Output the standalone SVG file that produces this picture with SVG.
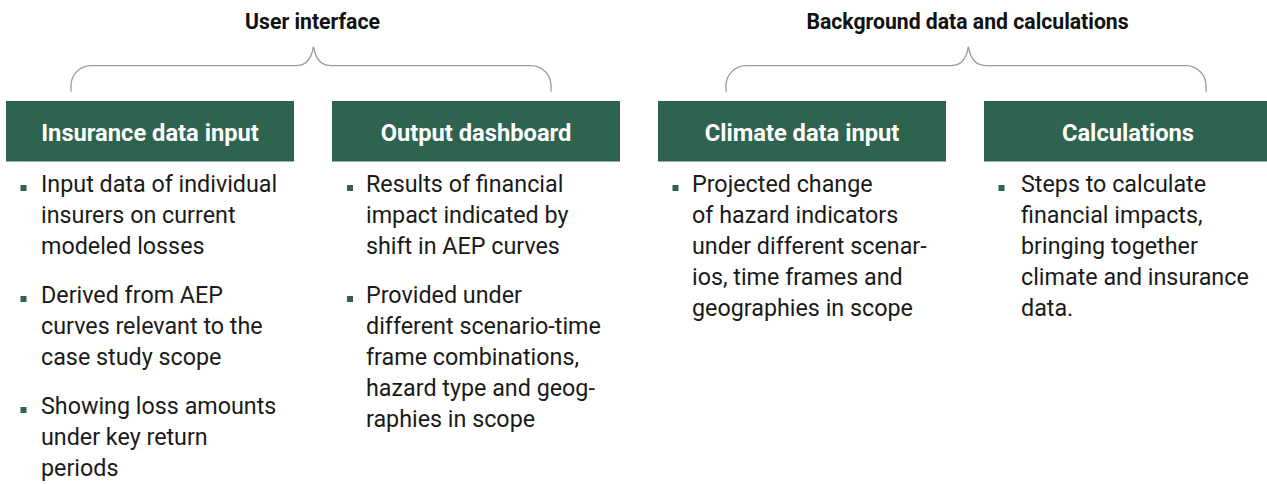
<svg xmlns="http://www.w3.org/2000/svg" width="1267" height="484" viewBox="0 0 1267 484">
<style>
.box{fill:#2e634f}
.ttl{font-family:Roboto,"Liberation Sans",sans-serif;font-weight:700;font-size:23.7px;fill:#ffffff;text-anchor:middle}
.hdr{font-family:Roboto,"Liberation Sans",sans-serif;font-weight:700;font-size:21.2px;fill:#111111;text-anchor:middle}
.body{font-family:Roboto,"Liberation Sans",sans-serif;font-size:23.3px;fill:#1a1a1a}
.bul{fill:#2e634f}
.brace{fill:none;stroke:#9a9a9a;stroke-width:1.3}
</style>
<rect width="1267" height="484" fill="#ffffff"/>
<g id="group-headers">
<text id="hdr-ui" class="hdr" x="312.5" y="28.5">User interface</text>
<text id="hdr-bg" class="hdr" x="967.5" y="28.5">Background data and calculations</text>
</g>
<g id="connectors">
<path class="brace" d="M71,91.7 V86 A20,20 0 0 1 91,65.7 H295 C305,65.7 311,61 313.5,46.7 C316,61 322,65.7 332,65.7 H531 A20,20 0 0 1 551,85.7 V91.7"/>
<path class="brace" d="M726,91.7 V86 A20,20 0 0 1 746,65.7 H950 C960,65.7 966,61 968.3,46.7 C971,61 977,65.7 987,65.7 H1186 A20,20 0 0 1 1206,85.7 V91.7"/>
</g>
<g id="node-insurance">
<rect class="box" x="6" y="101" width="288" height="60.5"/>
<text class="ttl" x="150" y="140.5">Insurance data input</text>
<rect class="bul" x="20.5" y="185" width="6" height="6"/>
<text class="body"><tspan x="41" y="192.3">Input data of individual</tspan><tspan x="41" y="223.3">insurers on current</tspan><tspan x="41" y="254.3">modeled losses</tspan></text>
<rect class="bul" x="20.5" y="296" width="6" height="6"/>
<text class="body"><tspan x="41" y="303">Derived from AEP</tspan><tspan x="41" y="334">curves relevant to the</tspan><tspan x="41" y="365">case study scope</tspan></text>
<rect class="bul" x="20.5" y="407" width="6" height="6"/>
<text class="body"><tspan x="41" y="414">Showing loss amounts</tspan><tspan x="41" y="445">under key return</tspan><tspan x="41" y="476">periods</tspan></text>
</g>
<g id="node-output">
<rect class="box" x="332" y="101" width="288" height="60.5"/>
<text class="ttl" x="476" y="140.5">Output dashboard</text>
<rect class="bul" x="347" y="185" width="6" height="6"/>
<text class="body"><tspan x="366" y="192.3">Results of financial</tspan><tspan x="366" y="223.3">impact indicated by</tspan><tspan x="366" y="254.3">shift in AEP curves</tspan></text>
<rect class="bul" x="347" y="296" width="6" height="6"/>
<text class="body"><tspan x="366" y="303">Provided under</tspan><tspan x="366" y="334">different scenario-time</tspan><tspan x="366" y="365">frame combinations,</tspan><tspan x="366" y="396">hazard type and geog-</tspan><tspan x="366" y="427">raphies in scope</tspan></text>
</g>
<g id="node-climate">
<rect class="box" x="658" y="101" width="288" height="60.5"/>
<text class="ttl" x="802" y="140.5">Climate data input</text>
<rect class="bul" x="672.5" y="185" width="6" height="6"/>
<text class="body"><tspan x="692" y="192.3">Projected change</tspan><tspan x="692" y="223.3">of hazard indicators</tspan><tspan x="692" y="254.3">under different scenar-</tspan><tspan x="692" y="285.3">ios, time frames and</tspan><tspan x="692" y="316.3">geographies in scope</tspan></text>
</g>
<g id="node-calculations">
<rect class="box" x="984" y="101" width="288" height="60.5"/>
<text class="ttl" x="1128" y="140.5">Calculations</text>
<rect class="bul" x="998.5" y="185" width="6" height="6"/>
<text class="body"><tspan x="1021" y="192.3">Steps to calculate</tspan><tspan x="1021" y="223.3">financial impacts,</tspan><tspan x="1021" y="254.3">bringing together</tspan><tspan x="1021" y="285.3">climate and insurance</tspan><tspan x="1021" y="316.3">data.</tspan></text>
</g>
</svg>
